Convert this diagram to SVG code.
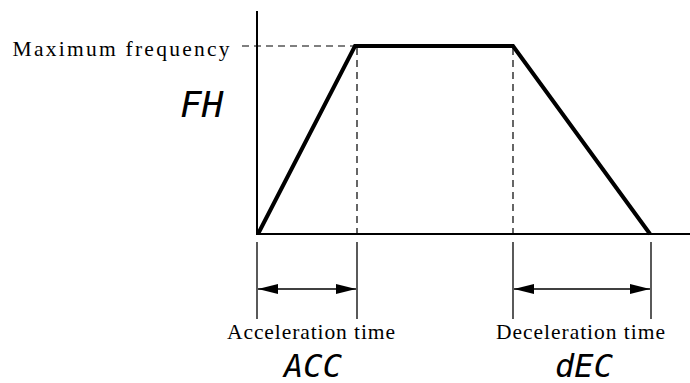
<svg xmlns="http://www.w3.org/2000/svg" width="690" height="383" viewBox="0 0 690 383">
<style>
.ax{stroke:#000;stroke-width:2;fill:none}
.thin{stroke:#000;stroke-width:1.3;fill:none}
.dash{stroke:#000;stroke-width:1.2;stroke-dasharray:7,5;fill:none}
.curve{stroke:#000;stroke-width:4;fill:none;stroke-linejoin:miter}
.lbl{font-family:"Liberation Serif",serif;font-size:21.5px;fill:#000}
.seg{font-family:"DejaVu Sans Mono","Liberation Mono",monospace;font-style:oblique;fill:#000}
</style>
<defs>
<marker id="ah" viewBox="0 0 20 10" refX="20" refY="5" markerWidth="20" markerHeight="10" markerUnits="userSpaceOnUse" orient="auto-start-reverse">
<path d="M0,0 L20,5 L0,10 Z" fill="#000"/>
</marker>
</defs>
<g id="axes">
<line class="ax" x1="257" y1="11" x2="257" y2="235"/>
<line class="ax" x1="256" y1="234" x2="690" y2="234"/>
</g>
<g id="connectors">
<line class="dash" x1="242" y1="46" x2="355" y2="46"/>
<line class="dash" x1="357" y1="48" x2="357" y2="234"/>
<line class="dash" x1="513" y1="48" x2="513" y2="234"/>
<line class="thin" x1="257" y1="242" x2="257" y2="319"/>
<line class="thin" x1="357" y1="242" x2="357" y2="319"/>
<line class="thin" x1="513" y1="242" x2="513" y2="319"/>
<line class="thin" x1="651" y1="242" x2="651" y2="319"/>
<line class="thin" x1="258" y1="289" x2="356" y2="289" marker-start="url(#ah)" marker-end="url(#ah)"/>
<line class="thin" x1="514" y1="289" x2="650" y2="289" marker-start="url(#ah)" marker-end="url(#ah)"/>
</g>
<g id="curve">
<polyline class="curve" points="258,234 355,46 513,46 650,234"/>
</g>
<g id="label-max">
<text class="lbl" x="12.5" y="56" textLength="217" lengthAdjust="spacing">Maximum frequency</text>
</g>
<g id="label-fh">
<text class="seg" x="180" y="116.5" font-size="36">FH</text>
</g>
<g id="label-acc">
<text class="lbl" x="227" y="338.5" textLength="168" lengthAdjust="spacing">Acceleration time</text>
<text class="seg" x="313" y="376.5" font-size="32" text-anchor="middle">ACC</text>
</g>
<g id="label-dec">
<text class="lbl" x="496" y="338.5" textLength="169" lengthAdjust="spacing">Deceleration time</text>
<text class="seg" x="584" y="376.5" font-size="32" text-anchor="middle">dEC</text>
</g>
</svg>
